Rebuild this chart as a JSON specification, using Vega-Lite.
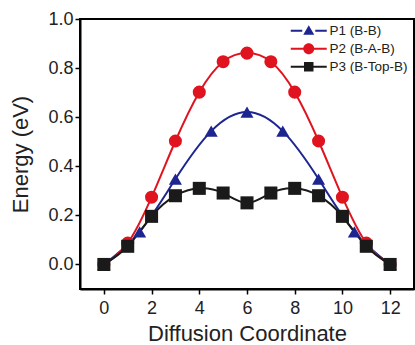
{
  "$schema": "https://vega.github.io/schema/vega-lite/v6.json",
  "autosize": "none",
  "width": 334,
  "height": 270,
  "padding": {"left": 80, "top": 19, "right": 1, "bottom": 56},
  "background": "white",
  "config": {
    "font": "Liberation Sans",
    "view": {"stroke": "black", "strokeWidth": 2},
    "axis": {
      "grid": false,
      "domainColor": "black",
      "domainWidth": 2,
      "tickColor": "black",
      "tickWidth": 1.5,
      "tickSize": 5,
      "labelFont": "Liberation Sans",
      "labelFontSize": 18,
      "labelColor": "#222",
      "titleFont": "Liberation Sans",
      "titleFontSize": 22,
      "titleFontWeight": "normal",
      "titleColor": "#222"
    }
  },
  "data": {
    "values": [
      {"x": 0, "E": 0, "s": "P1 (B-B)"},
      {"x": 1.5, "E": 0.133, "s": "P1 (B-B)"},
      {"x": 3, "E": 0.348, "s": "P1 (B-B)"},
      {"x": 4.5, "E": 0.543, "s": "P1 (B-B)"},
      {"x": 6, "E": 0.621, "s": "P1 (B-B)"},
      {"x": 7.5, "E": 0.543, "s": "P1 (B-B)"},
      {"x": 9, "E": 0.348, "s": "P1 (B-B)"},
      {"x": 10.5, "E": 0.133, "s": "P1 (B-B)"},
      {"x": 12, "E": 0, "s": "P1 (B-B)"},
      {"x": 0, "E": 0, "s": "P2 (B-A-B)"},
      {"x": 1, "E": 0.087, "s": "P2 (B-A-B)"},
      {"x": 2, "E": 0.274, "s": "P2 (B-A-B)"},
      {"x": 3, "E": 0.503, "s": "P2 (B-A-B)"},
      {"x": 4, "E": 0.702, "s": "P2 (B-A-B)"},
      {"x": 5, "E": 0.826, "s": "P2 (B-A-B)"},
      {"x": 6, "E": 0.861, "s": "P2 (B-A-B)"},
      {"x": 7, "E": 0.826, "s": "P2 (B-A-B)"},
      {"x": 8, "E": 0.702, "s": "P2 (B-A-B)"},
      {"x": 9, "E": 0.503, "s": "P2 (B-A-B)"},
      {"x": 10, "E": 0.274, "s": "P2 (B-A-B)"},
      {"x": 11, "E": 0.087, "s": "P2 (B-A-B)"},
      {"x": 12, "E": 0, "s": "P2 (B-A-B)"},
      {"x": 0, "E": 0, "s": "P3 (B-Top-B)"},
      {"x": 1, "E": 0.074, "s": "P3 (B-Top-B)"},
      {"x": 2, "E": 0.196, "s": "P3 (B-Top-B)"},
      {"x": 3, "E": 0.28, "s": "P3 (B-Top-B)"},
      {"x": 4, "E": 0.31, "s": "P3 (B-Top-B)"},
      {"x": 5, "E": 0.291, "s": "P3 (B-Top-B)"},
      {"x": 6, "E": 0.251, "s": "P3 (B-Top-B)"},
      {"x": 7, "E": 0.291, "s": "P3 (B-Top-B)"},
      {"x": 8, "E": 0.31, "s": "P3 (B-Top-B)"},
      {"x": 9, "E": 0.28, "s": "P3 (B-Top-B)"},
      {"x": 10, "E": 0.196, "s": "P3 (B-Top-B)"},
      {"x": 11, "E": 0.074, "s": "P3 (B-Top-B)"},
      {"x": 12, "E": 0, "s": "P3 (B-Top-B)"}
    ]
  },
  "encoding": {
    "x": {
      "field": "x", "type": "quantitative",
      "scale": {"domain": [-1, 13], "nice": false, "zero": false},
      "axis": {"values": [0, 2, 4, 6, 8, 10, 12], "title": "Diffusion Coordinate", "labelPadding": 5, "titlePadding": 6}
    },
    "y": {
      "field": "E", "type": "quantitative",
      "scale": {"domain": [-0.1, 1.0], "nice": false, "zero": false},
      "axis": {"values": [0, 0.2, 0.4, 0.6, 0.8, 1.0], "format": ".1f", "title": "Energy (eV)", "labelPadding": 2, "titlePadding": 15}
    }
  },
  "layer": [
    {
      "mark": {"type": "line", "interpolate": "natural", "strokeWidth": 2},
      "encoding": {
        "color": {"field": "s", "type": "nominal",
          "scale": {"domain": ["P1 (B-B)", "P2 (B-A-B)", "P3 (B-Top-B)"], "range": ["#1c2590", "#e0141f", "#1a1a1a"]},
          "legend": null}
      }
    },
    {
      "mark": {"type": "point", "filled": true, "size": 170, "opacity": 1},
      "encoding": {
        "color": {"field": "s", "type": "nominal", "legend": null},
        "shape": {"field": "s", "type": "nominal",
          "scale": {"domain": ["P1 (B-B)", "P2 (B-A-B)", "P3 (B-Top-B)"], "range": ["triangle-up", "circle", "square"]},
          "legend": null}
      }
    },
    {
      "mark": {"type": "point", "filled": true, "size": 0, "opacity": 0},
      "encoding": {
        "color": {"field": "s", "type": "nominal", "legend": null},
        "shape": {"field": "s", "type": "nominal",
          "scale": {"domain": ["P1 (B-B)", "P2 (B-A-B)", "P3 (B-Top-B)"],
            "range": [
              "M-3.6,-0.22 H-1.3 V0.22 H-3.6 Z M1.3,-0.22 H3.6 V0.22 H1.3 Z M0,-1.1 L1.1,0.8 L-1.1,0.8 Z",
              "M-3.6,-0.22 H-1 V0.22 H-3.6 Z M1,-0.22 H3.6 V0.22 H1 Z M1.1,0 A1.1,1.1 0 1,1 -1.1,0 A1.1,1.1 0 1,1 1.1,0 Z",
              "M-3.6,-0.22 H-0.95 V0.22 H-3.6 Z M0.95,-0.22 H3.6 V0.22 H0.95 Z M-0.95,-0.95 H0.95 V0.95 H-0.95 Z"
            ]},
          "legend": {
            "title": null,
            "orient": "none",
            "legendX": 222,
            "legendY": 5,
            "labelFont": "Liberation Sans",
            "labelFontSize": 13.5,
            "labelColor": "#222",
            "labelOffset": 14,
            "rowPadding": 3,
            "symbolSize": 100,
            "symbolOpacity": 1,
            "symbolFillColor": "black",
            "symbolStrokeWidth": 0,
            "encode": {
              "symbols": {"update": {
                "fill": {"scale": "color", "field": "value"}
              }}
            }
          }
        }
      }
    }
  ],
  "resolve": {"scale": {"shape": "independent"}}
}
